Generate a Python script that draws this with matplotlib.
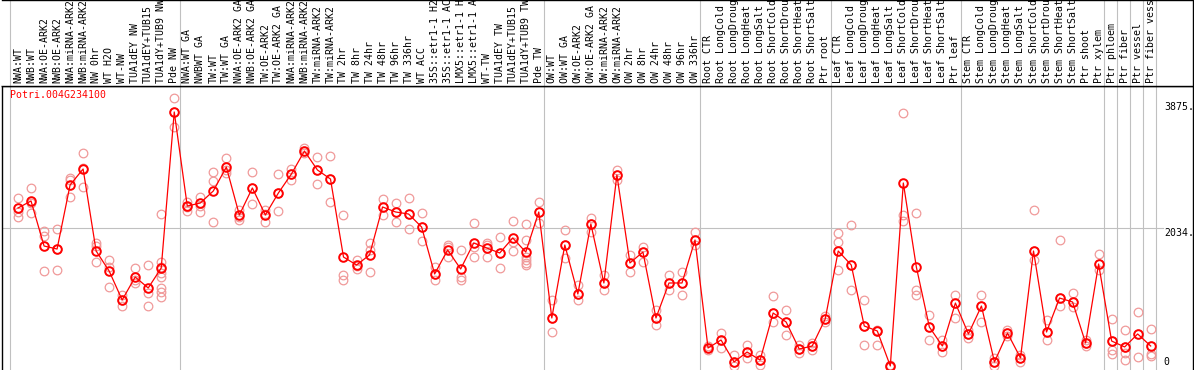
import matplotlib
matplotlib.use("Agg")
import matplotlib.pyplot as plt
import matplotlib.transforms as mtransforms

gene = "Potri.004G234100"

samples = [
    "NWA:WT", "NWB:WT", "NWA:OE-ARK2", "NWB:OE-ARK2", "NWA:miRNA-ARK2",
    "NWB:miRNA-ARK2", "NW 0hr", "WT H2O", "WT-NW", "TUA1dEY NW",
    "TUA1dEY+TUB15", "TUA1dY+TUB9 NW", "Pde NW",
    "NWA:WT GA", "NWBWT GA", "TW:WT", "TW:WT GA", "NWA:OE-ARK2 GA",
    "NWB:OE-ARK2 GA", "TW:OE-ARK2", "TW:OE-ARK2 GA", "NWA:miRNA-ARK2",
    "NWB:miRNA-ARK2", "TW:miRNA-ARK2", "TW:miRNA-ARK2", "TW 2hr", "TW 8hr",
    "TW 24hr", "TW 48hr", "TW 96hr", "TW 336hr", "WT ACC", "35S::etr1-1 H2",
    "35S::etr1-1 AC", "LMX5::etr1-1 H", "LMX5::etr1-1 A", "WT-TW",
    "TUA1dEY TW", "TUA1dEY+TUB15", "TUA1dY+TUB9 TW", "Pde TW",
    "OW:WT", "OW:WT GA", "OW:OE-ARK2", "OW:OE-ARK2 GA", "OW:miRNA-ARK2",
    "OW:miRNA-ARK2", "OW 2hr", "OW 8hr", "OW 24hr", "OW 48hr", "OW 96hr",
    "OW 336hr",
    "Root CTR", "Root LongCold", "Root LongDroug", "Root LongHeat",
    "Root LongSalt", "Root ShortCold", "Root ShortDrou", "Root ShortHeat",
    "Root ShortSalt", "Ptr root",
    "Leaf CTR", "Leaf LongCold", "Leaf LongDroug", "Leaf LongHeat",
    "Leaf LongSalt", "Leaf ShortCold", "Leaf ShortDrou", "Leaf ShortHeat",
    "Leaf ShortSalt", "Ptr leaf",
    "Stem CTR", "Stem LongCold", "Stem LongDroug", "Stem LongHeat",
    "Stem LongSalt", "Stem ShortCold", "Stem ShortDrou", "Stem ShortHeat",
    "Stem ShortSalt", "Ptr shoot",
    "Ptr xylem", "Ptr phloem", "Ptr fiber", "Ptr vessel", "Ptr fiber vess",
]

# mean expression per sample
means = [
    2326, 2429, 1770, 1726, 2663, 2897, 1697, 1404, 980, 1317, 1156, 1448, 3731,
    2355, 2399, 2575, 2926, 2224, 2619, 2224, 2546, 2824, 3160, 2882, 2750,
    1609, 1492, 1639, 2341, 2268, 2238, 2048, 1361, 1712, 1434, 1814, 1741,
    1668, 1887, 1682, 2268,
    717, 1785, 1068, 2092, 1229, 2809, 1522, 1682, 717, 1229, 1229, 1858,
    278, 395, 73, 219, 102, 790, 658, 263, 307, 702,
    1697, 1492, 600, 527, 15, 2692, 1463, 585, 307, 936,
    483, 892, 73, 497, 132, 1697, 512, 1009, 951, 351,
    1507, 380, 293, 483, 307,
]

# individual replicates per sample
reps = [
    [2472, 2268, 2195], [2619, 2399, 2253], [1990, 1917, 1404], [2019, 1726, 1419],
    [2765, 2736, 2487], [3131, 2911, 2633], [1814, 1770, 1536], [1565, 1463, 1170],
    [1053, 980, 892], [1448, 1273, 1229], [1492, 1083, 892],
    [2238, 1536, 1463, 1375, 1317, 1156, 1097, 1024], [3935, 3731, 3511],
    [2414, 2341, 2282], [2487, 2355, 2268], [2853, 2721, 2121], [3058, 2882, 2838],
    [2297, 2195, 2151], [2853, 2619, 2385], [2297, 2238, 2121], [2824, 2546, 2282],
    [2897, 2824, 2736], [3204, 3160, 3131], [3072, 2882, 2677], [3087, 2750, 2414],
    [2224, 1346, 1273], [1565, 1478, 1434], [1814, 1712, 1390], [2458, 2341, 2224],
    [2399, 2268, 2121], [2472, 2238, 2019], [2253, 2048, 1843], [1463, 1361, 1273],
    [1785, 1756, 1609], [1712, 1317, 1273], [2107, 1756, 1609], [1814, 1785, 1609],
    [1902, 1668, 1448], [2136, 1829, 1697],
    [2092, 1858, 1609, 1565, 1522, 1492], [2414, 2268, 2107],
    [980, 717, 512], [2004, 1785, 1595], [1200, 1068, 980], [2180, 2092, 1975],
    [1346, 1229, 1127], [2882, 2809, 2736], [1639, 1522, 1390], [1756, 1682, 1536],
    [834, 717, 614], [1346, 1229, 1127], [1390, 1229, 1053], [1975, 1858, 1785],
    [307, 278, 249], [497, 395, 278], [176, 73, 15], [322, 219, 132],
    [176, 102, 29], [1039, 790, 658], [834, 658, 468], [322, 263, 205],
    [351, 307, 249], [746, 702, 658],
    [1960, 1829, 1697, 1419], [2077, 1492, 1127], [980, 600, 322], [541, 527, 322],
    [29, 15, 0], [3716, 2224, 2136], [2253, 1127, 1053], [761, 585, 395],
    [395, 307, 219], [1053, 936, 717],
    [541, 483, 424], [1053, 892, 658], [132, 73, 15], [541, 497, 454],
    [176, 132, 73], [2297, 1697, 1565], [688, 512, 395], [1858, 1009, 892],
    [1083, 951, 878], [395, 351, 307],
    [1653, 1507, 1419], [702, 380, 249, 190], [541, 293, 205, 102],
    [805, 483, 146], [556, 307, 190, 161],
]

# last sample index of each group (separator drawn after it)
group_ends = [-1, 12, 40, 52, 62, 72, 83, 84, 85, 86, 87]
yticks = [3875, 2034, 0]

W, H = 1194, 370
fig = plt.figure(figsize=(W / 100, H / 100), dpi=100)
ax = fig.add_axes([2 / W, 0, 1191 / W, 284 / H])
hx = fig.add_axes([2 / W, 284 / H, 1191 / W, 86 / H], sharex=ax)

mono = "DejaVu Sans Mono"
red = "#ff0000"
pink = "#f09a9a"
grey = "#c0c0c0"

x = list(range(len(samples)))

# replicates first, then the mean line on top
for i, r in enumerate(reps):
    ax.plot([i] * len(r), r, linestyle="none", marker="o", markersize=6.2,
            markerfacecolor="none", markeredgecolor=pink, markeredgewidth=0.9,
            zorder=2)
ax.plot(x, means, color=red, linewidth=0.9, marker="o", markersize=6.2,
        markerfacecolor="none", markeredgecolor=red, markeredgewidth=1.4,
        zorder=3)

for e in group_ends:
    ax.axvline(e + 0.42, color=grey, linewidth=0.8, zorder=1)
    hx.axvline(e + 0.42, color=grey, linewidth=0.8, zorder=1)

ax.axhline(yticks[1], xmax=0.975, color=grey, linewidth=0.8, zorder=1)

ax.set_xlim(-1.23, 90.25)
ax.set_ylim(-44, 4111)
ax.set_xticks([])
ax.set_yticks([])
hx.set_yticks([])
hx.tick_params(axis="x", bottom=False, labelbottom=False)
hx.set_ylim(0, 1)

for s in ["left", "top", "right", "bottom"]:
    ax.spines[s].set_linewidth(1.0)
    hx.spines[s].set_linewidth(1.0)
ax.spines["bottom"].set_visible(False)
hx.spines["left"].set_visible(False)

# y value labels sitting inside the plot, right side
trans = mtransforms.blended_transform_factory(ax.transAxes, ax.transData)
ax.text(0.9755, yticks[0], f"{yticks[0]}.", transform=trans, ha="left",
        va="top", fontsize=7.1, family=mono)
ax.text(0.9755, yticks[1], f"{yticks[1]}.", transform=trans, ha="left",
        va="top", fontsize=7.1, family=mono)
ax.text(0.9755, yticks[2], f"{yticks[2]}", transform=trans, ha="left",
        va="bottom", fontsize=7.1, family=mono)

ax.text(0.007, 0.985, gene, transform=ax.transAxes, ha="left", va="top",
        color=red, fontsize=7.1, family=mono)

htrans = mtransforms.blended_transform_factory(hx.transData, hx.transAxes)
for i, s in enumerate(samples):
    hx.text(i, 0.035, s, transform=htrans, rotation=90, ha="center",
            va="bottom", fontsize=7.1, family=mono, clip_on=False)

fig.savefig("out.png", dpi=100)
